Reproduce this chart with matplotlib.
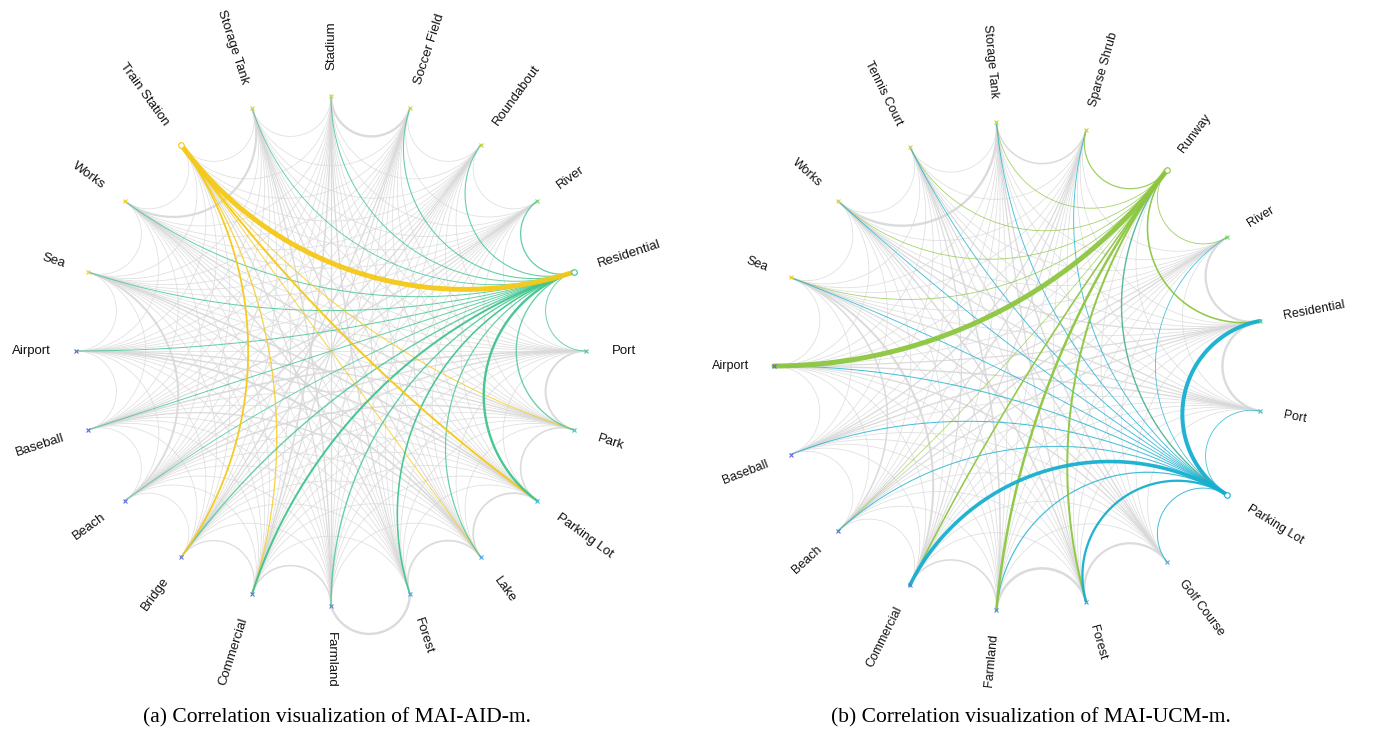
import numpy as np
import matplotlib.pyplot as plt
from itertools import combinations
from matplotlib.colors import LinearSegmentedColormap

# ---- data (a) MAI-AID-m ----
aid_nodes = ["Airport", "Baseball", "Beach", "Bridge", "Commercial", "Farmland", "Forest",
             "Lake", "Parking Lot", "Park", "Port", "Residential", "River", "Roundabout",
             "Soccer Field", "Stadium", "Storage Tank", "Train Station", "Works", "Sea"]

# edges of the two highlighted classes: (source, target, width in px)
aid_residential = [("Residential", "Airport", 1.0), ("Residential", "Baseball", 1.0),
                   ("Residential", "Beach", 0.9), ("Residential", "Bridge", 1.4),
                   ("Residential", "Commercial", 2.0), ("Residential", "Farmland", 1.4),
                   ("Residential", "Forest", 1.6), ("Residential", "Lake", 1.2),
                   ("Residential", "Parking Lot", 2.4), ("Residential", "Park", 1.3),
                   ("Residential", "Port", 0.9), ("Residential", "River", 1.3),
                   ("Residential", "Roundabout", 1.1), ("Residential", "Soccer Field", 1.1),
                   ("Residential", "Stadium", 1.0), ("Residential", "Storage Tank", 0.9),
                   ("Residential", "Works", 1.0), ("Residential", "Sea", 1.0)]
aid_train = [("Train Station", "Residential", 5.0), ("Train Station", "Bridge", 1.8),
             ("Train Station", "Commercial", 1.3), ("Train Station", "Lake", 1.0),
             ("Train Station", "Parking Lot", 2.0), ("Train Station", "Park", 1.0)]
aid_gray_strong = [("Stadium", "Soccer Field", 2.4), ("Storage Tank", "Works", 2.2),
                   ("Farmland", "Forest", 2.4), ("Port", "Park", 2.0),
                   ("Park", "Parking Lot", 1.6), ("Parking Lot", "Lake", 1.8),
                   ("Lake", "Forest", 1.8), ("Commercial", "Farmland", 1.6),
                   ("Bridge", "Commercial", 1.2), ("Sea", "Beach", 2.0),
                   ("Airport", "Lake", 1.8), ("Sea", "Parking Lot", 1.6),
                   ("Works", "Park", 1.4), ("Stadium", "Commercial", 1.6),
                   ("Storage Tank", "Farmland", 1.4), ("Soccer Field", "Bridge", 1.4),
                   ("Roundabout", "Beach", 1.3), ("River", "Baseball", 1.3),
                   ("Baseball", "Port", 1.6), ("Beach", "Park", 1.4),
                   ("Bridge", "Port", 1.3), ("Stadium", "Forest", 1.3),
                   ("Airport", "Parking Lot", 1.4), ("Baseball", "Lake", 1.3),
                   ("Sea", "Lake", 1.3), ("Works", "Forest", 1.3),
                   ("Storage Tank", "Lake", 1.2), ("Soccer Field", "Commercial", 1.2),
                   ("Roundabout", "Bridge", 1.2), ("River", "Beach", 1.2),
                   ("Airport", "Park", 1.3), ("Beach", "Port", 1.2),
                   ("Stadium", "Farmland", 1.2), ("Train Station", "Farmland", 1.2)]
aid_outward = [("Farmland", "Forest")]
aid_faint = 0.8

# ---- data (b) MAI-UCM-m ----
ucm_nodes = ["Airport", "Baseball", "Beach", "Commercial", "Farmland", "Forest", "Golf Course",
             "Parking Lot", "Port", "Residential", "River", "Runway", "Sparse Shrub",
             "Storage Tank", "Tennis Court", "Works", "Sea"]
ucm_runway = [("Runway", "Airport", 5.0), ("Runway", "Farmland", 2.5), ("Runway", "Forest", 2.0),
              ("Runway", "Commercial", 1.6), ("Runway", "Beach", 0.7), ("Runway", "Sea", 0.8),
              ("Runway", "Works", 0.8), ("Runway", "Tennis Court", 0.8),
              ("Runway", "Storage Tank", 0.8), ("Runway", "Sparse Shrub", 1.3),
              ("Runway", "River", 0.9), ("Runway", "Residential", 1.6)]
ucm_parking = [("Parking Lot", "Residential", 4.0), ("Parking Lot", "Commercial", 3.6),
               ("Parking Lot", "Forest", 2.3), ("Parking Lot", "Farmland", 1.2),
               ("Parking Lot", "Golf Course", 1.0), ("Parking Lot", "Port", 0.8),
               ("Parking Lot", "Beach", 1.0), ("Parking Lot", "Baseball", 1.0),
               ("Parking Lot", "Airport", 1.0), ("Parking Lot", "Sea", 0.9),
               ("Parking Lot", "Works", 0.9), ("Parking Lot", "Tennis Court", 0.9),
               ("Parking Lot", "Storage Tank", 0.9), ("Parking Lot", "Sparse Shrub", 0.9),
               ("Parking Lot", "River", 0.8)]
ucm_mixed = [("Runway", "Parking Lot", 1.4)]
ucm_gray_strong = [("Storage Tank", "Works", 2.4), ("Storage Tank", "Sparse Shrub", 1.6),
                   ("Farmland", "Forest", 2.6), ("Commercial", "Farmland", 1.6),
                   ("Forest", "Golf Course", 2.2), ("Residential", "Port", 2.4),
                   ("River", "Residential", 2.2), ("Sea", "Beach", 1.6),
                   ("Sea", "Commercial", 2.0), ("Works", "Forest", 1.5),
                   ("Tennis Court", "Farmland", 1.6), ("Airport", "Port", 1.4),
                   ("Baseball", "Residential", 1.4), ("Beach", "River", 1.4),
                   ("Sparse Shrub", "Beach", 1.2), ("Storage Tank", "Golf Course", 1.4),
                   ("Tennis Court", "Port", 1.3), ("Works", "Residential", 1.3),
                   ("Airport", "Golf Course", 1.3), ("Sea", "Port", 1.2),
                   ("Baseball", "Sparse Shrub", 1.3), ("Commercial", "Tennis Court", 1.2),
                   ("Sea", "Golf Course", 1.3), ("Works", "Port", 1.2),
                   ("Baseball", "River", 1.2), ("Beach", "Residential", 1.2),
                   ("Storage Tank", "Forest", 1.3), ("Sparse Shrub", "Commercial", 1.2),
                   ("Airport", "Residential", 1.2), ("Tennis Court", "Golf Course", 1.2)]
ucm_outward = []
ucm_faint = 0.8

node_cmap = LinearSegmentedColormap.from_list(
    "nodes", [(0.0, "#6a63d2"), (0.22, "#5b7fe0"), (0.42, "#4ab8de"), (0.52, "#3fc8b4"),
              (0.6, "#5fd08c"), (0.7, "#c6d848"), (1.0, "#f0d23c")])
PX = 0.72  # px -> pt at 100 dpi


def arc_points(a1, a2, outward=False, n=120):
    # arc orthogonal to the unit circle between two nodes
    p1 = np.array([np.cos(a1), np.sin(a1)])
    p2 = np.array([np.cos(a2), np.sin(a2)])
    d = (a2 - a1) % (2 * np.pi)
    if d > np.pi:
        d = 2 * np.pi - d
    if abs(d - np.pi) < 1e-3:
        t = np.linspace(0, 1, n)[:, None]
        pts = p1 * (1 - t) + p2 * t
    else:
        mid = (p1 + p2) / np.linalg.norm(p1 + p2)
        c = mid / np.cos(d / 2)
        r = np.tan(d / 2)
        f1 = np.arctan2(p1[1] - c[1], p1[0] - c[0])
        f2 = np.arctan2(p2[1] - c[1], p2[0] - c[0])
        df = (f2 - f1 + np.pi) % (2 * np.pi) - np.pi
        f = f1 + df * np.linspace(0, 1, n)
        pts = np.c_[c[0] + r * np.cos(f), c[1] + r * np.sin(f)]
    if outward:
        u = (p2 - p1) / np.linalg.norm(p2 - p1)
        v = pts - p1
        pts = p1 + 2 * (v @ u)[:, None] * u - v
    return pts[:, 0], pts[:, 1]


def draw_graph(cx, cy, rad, nodes, colored, gray_strong, outward, faint, selected, fsize):
    half = 1.25
    ax = fig.add_axes([(cx - half * rad) / 1374, (733 - cy - half * rad) / 733,
                       2 * half * rad / 1374, 2 * half * rad / 733])
    ax.set_xlim(-half, half)
    ax.set_ylim(-half, half)
    ax.set_aspect("equal")
    ax.axis("off")
    ax.patch.set_alpha(0)

    n = len(nodes)
    ang = {name: np.deg2rad(180 + 360 * i / n) for i, name in enumerate(nodes)}
    outset = set(frozenset(p) for p in outward)
    colored_keys = set(frozenset((a, b)) for a, b, w, c in colored)
    strong = {frozenset((a, b)): w for a, b, w in gray_strong}

    # grey background links
    for a, b in combinations(nodes, 2):
        key = frozenset((a, b))
        if key in colored_keys:
            continue
        w = strong.get(key, faint)
        x, y = arc_points(ang[a], ang[b], key in outset)
        ax.plot(x, y, color="#d8d8d8", lw=w * PX, alpha=0.8 if w <= faint else 0.9,
                zorder=1 + w / 10, solid_capstyle="round")

    # highlighted links
    for a, b, w, c in sorted(colored, key=lambda e: e[2]):
        x, y = arc_points(ang[a], ang[b], frozenset((a, b)) in outset)
        ax.plot(x, y, color=c, lw=w * PX, alpha=0.8 if w < 1.5 else 0.95,
                zorder=3 + w / 10, solid_capstyle="round")

    # nodes and labels
    for i, name in enumerate(nodes):
        t = ang[name]
        x, y = np.cos(t), np.sin(t)
        col = node_cmap(i / (n - 1))
        if name in selected:
            ax.plot(x, y, marker="o", ms=4, mfc="white", mec=selected[name], mew=0.8, zorder=6)
        else:
            ax.plot(x, y, marker="x", ms=3.2, color=col, mew=0.8, zorder=6)
        deg = np.rad2deg(t) % 360
        if 90 < deg < 270:
            rot, ha = deg - 180, "right"
        else:
            rot, ha = (deg if deg <= 90 else deg - 360), "left"
        ax.text(1.1 * x, 1.1 * y, name, rotation=rot, ha=ha, va="center",
                rotation_mode="anchor", fontsize=fsize, family="Liberation Sans",
                color="#111111", clip_on=False)
    return ax


fig = plt.figure(figsize=(13.74, 7.33), dpi=100)

aid_colored = [(a, b, w, "#3fc48d") for a, b, w in aid_residential] + \
              [(a, b, w, "#f5c917") for a, b, w in aid_train]
draw_graph(331, 351, 255, aid_nodes, aid_colored, aid_gray_strong, aid_outward, aid_faint,
           {"Residential": "#3fc48d", "Train Station": "#f5c917"}, 9.5)

ucm_colored = [(a, b, w, "#8cc63f") for a, b, w in ucm_runway] + \
              [(a, b, w, "#17afd0") for a, b, w in ucm_parking] + \
              [(a, b, w, "#2fa882") for a, b, w in ucm_mixed]
draw_graph(1019, 366, 245, ucm_nodes, ucm_colored, ucm_gray_strong, ucm_outward, ucm_faint,
           {"Runway": "#8cc63f", "Parking Lot": "#17afd0"}, 9)

fig.text(337 / 1374, 1 - 718 / 733, "(a) Correlation visualization of MAI-AID-m.",
         ha="center", va="center", family="Liberation Serif", fontsize=15.5)
fig.text(1031 / 1374, 1 - 718 / 733, "(b) Correlation visualization of MAI-UCM-m.",
         ha="center", va="center", family="Liberation Serif", fontsize=15.5)

fig.savefig("out.png", dpi=100, facecolor="white")
